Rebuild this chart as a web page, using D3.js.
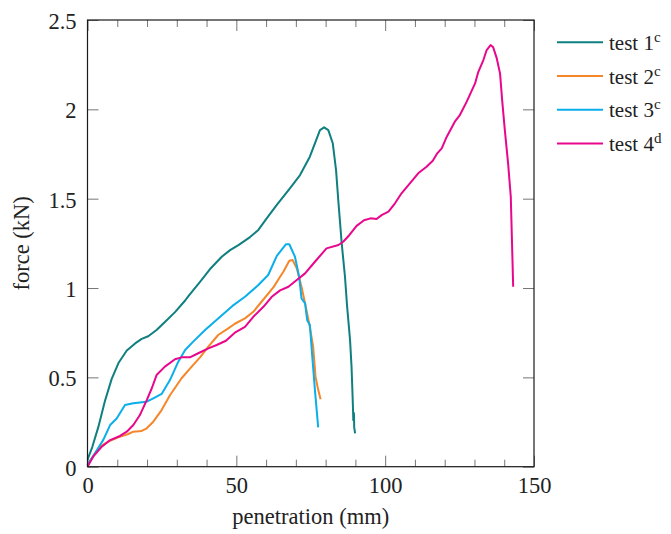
<!DOCTYPE html>
<html>
<head>
<meta charset="utf-8">
<script src="https://cdn.jsdelivr.net/npm/d3@7"></script>
<style>
  body { margin: 0; background: white; }
  text { font-family: "Liberation Serif", "Times New Roman", Times, "Nimbus Roman", Tinos, "DejaVu Serif", "Noto Serif", serif; fill: #222; }
</style>
</head>
<body>
<svg id="chart"></svg>
<script>

// penetration (mm), force (kN)
var test1 = [[0,0.04],[1.6,0.11],[3.6,0.22],[5.9,0.37],[8.1,0.49],[10.4,0.58],[13.2,0.65],[16.0,0.69],[18.2,0.715],[20.4,0.73],[23.2,0.765],[26.0,0.81],[29.4,0.865],[32.8,0.93],[33.9,0.955],[37.8,1.035],[41.1,1.105],[45.1,1.175],[47.9,1.212],[50.7,1.24],[54.6,1.285],[57.4,1.325],[60.2,1.39],[63.6,1.465],[68.0,1.558],[71.4,1.632],[74.7,1.735],[76.4,1.81],[78.1,1.884],[79.5,1.899],[80.9,1.884],[82.4,1.81],[83.5,1.66],[84.3,1.48],[85.4,1.25],[86.5,1.063],[87.2,0.9],[88.2,0.71],[88.7,0.56],[89.1,0.373],[89.3,0.26],[89.5,0.3],[89.6,0.22],[89.9,0.187]]
var test2 = [[0,0.01],[1.4,0.047],[4.2,0.112],[7.0,0.14],[10.3,0.164],[13.7,0.183],[15.4,0.196],[18.2,0.2],[19.9,0.215],[22.1,0.252],[24.9,0.317],[27.7,0.40],[31.6,0.495],[35.0,0.56],[37.8,0.612],[40.6,0.672],[43.9,0.737],[47.3,0.774],[49.5,0.80],[52.9,0.83],[55.7,0.867],[59.3,0.94],[62.5,1.005],[64.7,1.063],[65.8,1.091],[67.8,1.153],[68.9,1.157],[70.3,1.11],[71.9,1.007],[73.1,0.914],[74.7,0.783],[75.8,0.672],[76.6,0.504],[77.5,0.43],[78.3,0.378]]
var test3 = [[0,0.01],[2.5,0.075],[5.3,0.15],[7.6,0.233],[9.8,0.27],[12.6,0.345],[15.4,0.355],[19.9,0.364],[22.1,0.383],[24.9,0.407],[27.7,0.485],[30.5,0.588],[32.8,0.653],[35.5,0.70],[39.5,0.765],[43.9,0.83],[48.7,0.9],[52.9,0.951],[57.4,1.017],[60.7,1.073],[63.6,1.18],[66.7,1.245],[67.8,1.245],[69.7,1.175],[71.1,1.063],[71.9,0.942],[73.1,0.914],[73.8,0.82],[74.7,0.793],[75.6,0.597],[76.5,0.41],[77.5,0.22]]
var test4 = [[0,0],[1.9,0.056],[4.8,0.112],[7.6,0.149],[10.9,0.172],[13.2,0.196],[15.4,0.233],[17.6,0.289],[19.9,0.373],[21.6,0.439],[23.2,0.513],[26.0,0.56],[29.4,0.601],[31.6,0.612],[34.4,0.612],[37.2,0.635],[40.6,0.662],[43.4,0.681],[46.5,0.705],[49.5,0.75],[52.9,0.783],[55.7,0.839],[59.1,0.895],[61.9,0.951],[64.7,0.987],[67.5,1.007],[70.3,1.045],[73.1,1.082],[76.4,1.147],[80.3,1.222],[84.3,1.241],[85.9,1.259],[88.0,1.297],[90.4,1.348],[92.9,1.379],[95.1,1.39],[97.1,1.386],[98.8,1.408],[101.1,1.427],[103.3,1.474],[105.5,1.53],[108.3,1.586],[111.1,1.642],[113.9,1.679],[116.0,1.712],[117.5,1.754],[119.0,1.782],[120.7,1.847],[123.4,1.931],[125.1,1.968],[127.4,2.043],[130.2,2.145],[131.3,2.21],[133.0,2.276],[134.1,2.332],[135.4,2.36],[136.3,2.347],[137.5,2.285],[138.6,2.20],[139.3,2.052],[140.2,1.884],[141.3,1.698],[142.2,1.511],[142.5,1.324],[142.8,1.138],[143.0,1.007]]

var seriesNames = ["test 1", "test 2", "test 3", "test 4"]
var seriesSups = ["c", "c", "c", "d"]
var seriesColors = ["#0f7f7f", "#f5862a", "#0aaeea", "#e8078c"]
var seriesData = [test1, test2, test3, test4]

var xMajorTicks = [0, 50, 100, 150]
var xMinorTicks = [10, 20, 30, 40, 60, 70, 80, 90, 110, 120, 130, 140]
var yTicks = [0, 0.5, 1, 1.5, 2, 2.5]

var serif = "'Liberation Serif', 'Times New Roman', Times, 'Nimbus Roman', Tinos, 'DejaVu Serif', 'Noto Serif', serif"

var dimensions = ({
    width: 671,
    height: 534,
    margin: {
        top: 20,
        right: 137,
        bottom: 67.3,
        left: 87.5
    }
})

var svg = d3.select("#chart")
    .attr("width", dimensions.width)
    .attr("height", dimensions.height)

var xScale = d3.scaleLinear()
    .domain([0, 150])
    .range([dimensions.margin.left, dimensions.width - dimensions.margin.right])

var yScale = d3.scaleLinear()
    .domain([0, 2.5])
    .range([dimensions.height - dimensions.margin.bottom, dimensions.margin.top])

var bottom = dimensions.height - dimensions.margin.bottom
var right = dimensions.width - dimensions.margin.right

function styleAxis(g, labels) {
    g.attr("font-family", serif)
    g.select(".domain").remove()
    g.selectAll(".tick line").attr("stroke", "#666").attr("stroke-width", 0.9)
    if (labels) {
        g.selectAll(".tick text").attr("font-size", "22.5px").attr("fill", "#222")
    } else {
        g.selectAll(".tick text").remove()
    }
}

// bottom
svg.append("g")
    .attr("transform", `translate(0,${bottom})`)
    .call(d3.axisBottom(xScale).tickValues(xMajorTicks).tickSize(-11).tickPadding(10).tickFormat(d3.format("d")))
    .call(g => styleAxis(g, true))
svg.append("g")
    .attr("transform", `translate(0,${bottom})`)
    .call(d3.axisBottom(xScale).tickValues(xMinorTicks).tickSize(-7).tickFormat(""))
    .call(g => styleAxis(g, false))
// top
svg.append("g")
    .attr("transform", `translate(0,${dimensions.margin.top})`)
    .call(d3.axisTop(xScale).tickValues(xMajorTicks).tickSize(-11))
    .call(g => styleAxis(g, false))
svg.append("g")
    .attr("transform", `translate(0,${dimensions.margin.top})`)
    .call(d3.axisTop(xScale).tickValues(xMinorTicks).tickSize(-7))
    .call(g => styleAxis(g, false))
// left
svg.append("g")
    .attr("transform", `translate(${dimensions.margin.left},0)`)
    .call(d3.axisLeft(yScale).tickValues(yTicks).tickSize(-11).tickPadding(11).tickFormat(d3.format("")))
    .call(g => styleAxis(g, true))
    .call(g => g.selectAll(".tick text").attr("dy", "0.38em"))
// right
svg.append("g")
    .attr("transform", `translate(${right},0)`)
    .call(d3.axisRight(yScale).tickValues(yTicks).tickSize(-11))
    .call(g => styleAxis(g, false))

// data lines
var lineGen = d3.line()
    .x(d => xScale(d[0]))
    .y(d => yScale(d[1]))

svg.append("g")
    .selectAll("path")
    .data(seriesData)
    .enter()
    .append("path")
    .attr("d", lineGen)
    .attr("fill", "none")
    .attr("stroke", (d, i) => seriesColors[i])
    .attr("stroke-width", 2)
    .attr("stroke-linejoin", "round")

// frame
svg.append("rect")
    .attr("x", dimensions.margin.left)
    .attr("y", dimensions.margin.top)
    .attr("width", right - dimensions.margin.left)
    .attr("height", bottom - dimensions.margin.top)
    .attr("fill", "none")
    .attr("stroke", "#1a1a1a")
    .attr("stroke-width", 1.2)

// axis labels
svg.append("text")
    .attr("x", (dimensions.margin.left + right) / 2)
    .attr("y", 524)
    .attr("text-anchor", "middle")
    .attr("font-family", serif)
    .attr("font-size", "22.5px")
    .text("penetration (mm)")

svg.append("text")
    .attr("transform", `translate(29,${(dimensions.margin.top + bottom) / 2}) rotate(-90)`)
    .attr("text-anchor", "middle")
    .attr("font-family", serif)
    .attr("font-size", "22.5px")
    .text("force (kN)")

// legend
var legend = svg.append("g")
    .selectAll("g")
    .data(seriesNames)
    .enter()
    .append("g")
    .attr("transform", (d, i) => `translate(557,${42.3 + i * 33.7})`)

legend.append("line")
    .attr("x1", 0)
    .attr("x2", 46)
    .attr("stroke", (d, i) => seriesColors[i])
    .attr("stroke-width", 2)

var legendText = legend.append("text")
    .attr("x", 52)
    .attr("y", 7.7)
    .attr("font-family", serif)
    .attr("font-size", "21px")

legendText.append("tspan").text(d => d)
legendText.append("tspan")
    .attr("dy", -8)
    .attr("font-size", "15px")
    .text((d, i) => seriesSups[i])

</script>
</body>
</html>
